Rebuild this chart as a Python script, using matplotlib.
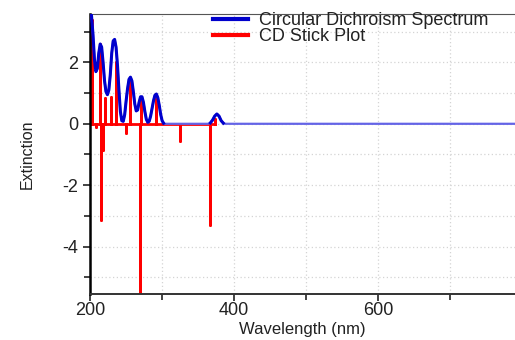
"""CD spectrum with stick plot."""
import numpy as np
import matplotlib
matplotlib.use("Agg")
import matplotlib.pyplot as plt
from matplotlib.ticker import MultipleLocator

# broadened spectrum (nm, extinction)
spec_wl = [200, 202, 204, 206, 208, 210, 212, 214, 216, 218, 220, 222, 224,
           226, 228, 230, 232, 234, 236, 238, 240, 242, 244, 246, 248, 250,
           252, 254, 256, 258, 260, 262, 264, 266, 268, 270, 272, 274, 276,
           278, 280, 282, 284, 286, 288, 290, 292, 294, 296, 298, 300, 302,
           304, 364, 367, 370, 373, 376, 379, 382, 385, 388, 800]
spec_val = [3.8, 3.5, 2.9, 2.1, 1.7, 1.8, 2.3, 2.6, 2.5, 2.0, 1.4, 1.05, 0.95,
            1.1, 1.6, 2.3, 2.7, 2.75, 2.5, 1.9, 1.1, 0.4, 0.1, 0.08, 0.3, 0.75,
            1.15, 1.45, 1.52, 1.4, 1.05, 0.65, 0.42, 0.45, 0.7, 0.88, 0.88,
            0.7, 0.4, 0.15, 0.05, 0.08, 0.25, 0.5, 0.75, 0.93, 0.97, 0.85,
            0.6, 0.3, 0.1, 0.02, 0.0, 0.0, 0.03, 0.12, 0.25, 0.32, 0.25, 0.1,
            0.02, 0.0, 0.0]

# rotatory strengths (sticks)
stick_wl = [202, 208, 214, 215, 218.5, 221, 229, 235.5, 250, 255.5, 269.5,
            270.8, 291.7, 325, 367, 374]
stick_val = [3.38, -0.1, 2.6, -3.15, -0.85, 0.85, 0.88, 2.03, -0.3, 1.5, -6.0,
             0.85, 0.85, -0.57, -3.3, 0.15]

plt.rcParams["font.family"] = ["Liberation Sans", "DejaVu Sans"]
plt.rcParams["axes.unicode_minus"] = False

fig = plt.figure(figsize=(5.15, 3.4), dpi=100)
ax = fig.add_axes([0.175, 0.135, 0.825, 0.824])

# sticks as one polyline through the baseline
sx, sy = [], []
for w, v in zip(stick_wl, stick_val):
    sx += [w, w, w]
    sy += [0, v, 0]
ax.plot(sx, sy, color="#ff0000", lw=2, zorder=2, label="CD Stick Plot")

spec = np.array(spec_val)
ax.plot(spec_wl, spec, color="#6464e6", lw=1.6, zorder=3)
ax.plot(spec_wl, np.ma.masked_where(spec == 0, spec), color="#0000cc",
        lw=2.2, zorder=4, label="Circular Dichroism Spectrum")

ax.set_xlim(200, 790)
ax.set_ylim(-5.55, 3.58)
ax.xaxis.set_major_locator(MultipleLocator(200))
ax.xaxis.set_minor_locator(MultipleLocator(100))
ax.yaxis.set_major_locator(MultipleLocator(2))
ax.yaxis.set_minor_locator(MultipleLocator(1))
ax.grid(True, which="both", color="#d4d4d4", ls=(0, (1, 2)), lw=0.9)
ax.tick_params(which="both", direction="out", width=1.2, labelsize=13,
               colors="#222222")
ax.tick_params(axis="x", pad=1)
ax.tick_params(which="major", length=5)
ax.tick_params(which="minor", length=4)
ax.spines["right"].set_visible(False)
ax.spines["left"].set_linewidth(1.8)
ax.spines["bottom"].set_linewidth(1.4)
ax.spines["bottom"].set_color("#333333")
ax.spines["top"].set_color("#555555")

ax.set_xlabel("Wavelength (nm)", fontsize=12, labelpad=2, color="#222222")
ax.set_ylabel("Extinction", fontsize=11.5, labelpad=20, color="#222222")

h, l = ax.get_legend_handles_labels()
leg = ax.legend(h[::-1], l[::-1], loc="upper left", frameon=False,
                bbox_to_anchor=(0.40, 0.985), bbox_transform=fig.transFigure,
                fontsize=13, handlelength=1.95, labelspacing=-0.05,
                borderaxespad=0, handletextpad=0.6)
for ln in leg.get_lines():
    ln.set_linewidth(3)
for t in leg.get_texts():
    t.set_color("#222222")

fig.savefig("out.png", dpi=100)
